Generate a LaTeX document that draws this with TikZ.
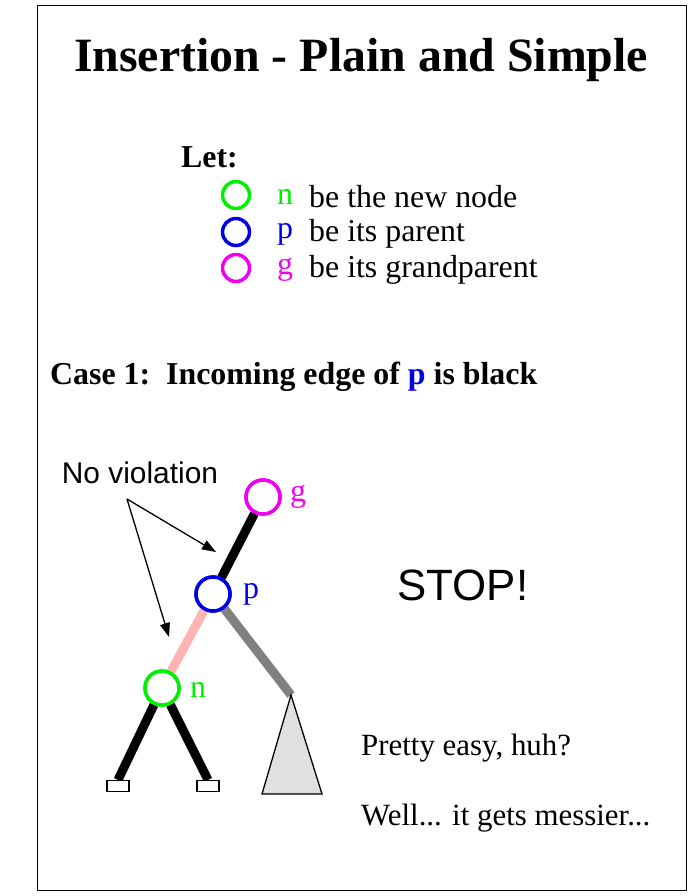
\documentclass[tikz,border=0pt]{standalone}
\usepackage{fontspec}
\setmainfont{Liberation Serif}
\newfontfamily\sansfont{Liberation Sans}
\usetikzlibrary{arrows.meta}
\definecolor{newgreen}{RGB}{0,240,0}
\definecolor{parblue}{RGB}{0,0,230}
\definecolor{grandmag}{RGB}{240,0,240}
\definecolor{edgepink}{RGB}{255,180,180}
\tikzset{
	legcirc/.style={circle,line width=3.5pt,minimum size=27bp,inner sep=0pt},
	treecirc/.style={circle,line width=3.5pt,fill=white,minimum size=34bp,inner sep=0pt},
	leafbox/.style={draw,line width=1.2pt,fill=white,minimum width=22bp,minimum height=11bp,inner sep=0pt},
	thickedge/.style={line width=9bp},
	bodytext/.style={font=\fontsize{32}{36}\selectfont,anchor=west,inner sep=0pt},
	pointer/.style={-{Triangle[length=14bp,width=10bp]},line width=1.3pt}
}
\begin{document}
\begin{tikzpicture}[x=1bp,y=-1bp]
	\useasboundingbox (0,0) rectangle (697,896);
	\draw[line width=1pt] (37,5) rectangle (686,890);
	\node[font=\fontsize{48}{52}\selectfont\bfseries] (title) at (361,60) {Insertion - Plain and Simple};
	% legend
	\node[bodytext,font=\fontsize{32}{36}\selectfont\bfseries] (let) at (181,157) {Let:};
	\node[legcirc,draw=newgreen] (legn) at (236,195) {};
	\node[legcirc,draw=parblue] (legp) at (236,232) {};
	\node[legcirc,draw=grandmag] (legg) at (236,268) {};
	\node[bodytext,text=newgreen] (legnl) at (277,197) {n};
	\node[bodytext,text=parblue] (legpl) at (277,234) {p};
	\node[bodytext,text=grandmag] (leggl) at (277,270) {g};
	\node[bodytext] (legnt) at (309,197) {be the new node};
	\node[bodytext] (legpt) at (309,234) {be its parent};
	\node[bodytext] (leggt) at (309,270) {be its grandparent};
	\node[bodytext,font=\fontsize{32}{36}\selectfont\bfseries] (case) at (50,377) {Case 1:\ \ Incoming edge of \textcolor{parblue}{p} is black};
	% tree
	\coordinate (apex) at (291,695);
	\node[leafbox] (leafl) at (118,786) {};
	\node[leafbox] (leafr) at (208,786) {};
	\node[treecirc,draw=grandmag] (g) at (263,497) {};
	\node[treecirc,draw=parblue] (p) at (213,594) {};
	\node[treecirc,draw=newgreen] (n) at (162,688) {};
	\draw[thickedge] (g) -- (p);
	\draw[thickedge,edgepink] (p) -- (n);
	\draw[thickedge,gray] (p) -- (apex);
	\draw[thickedge] (n) -- (leafl.north);
	\draw[thickedge] (n) -- (leafr.north);
	\draw[line width=1.3pt,fill=black!12] (apex) -- (322,794) -- (262,794) -- cycle;
	\node[treecirc,draw=grandmag] at (g) {};
	\node[treecirc,draw=parblue] at (p) {};
	\node[treecirc,draw=newgreen] at (n) {};
	\node[leafbox] at (leafl) {};
	\node[leafbox] at (leafr) {};
	\node[bodytext,text=grandmag] (gl) at (290,497) {g};
	\node[bodytext,text=parblue] (pl) at (243,594) {p};
	\node[bodytext,text=newgreen] (nl) at (190,690) {n};
	% annotations
	\node[font=\sansfont\fontsize{30}{34}\selectfont] (noviol) at (140,473) {No violation};
	\coordinate (fork) at (127,499);
	\draw[pointer] (fork) -- (216,552);
	\draw[pointer] (fork) -- (169,637);
	\node[font=\sansfont\fontsize{44}{48}\selectfont] (stop) at (463,585) {STOP!};
	\node[bodytext,font=\fontsize{31}{34}\selectfont] (easy) at (361,748) {Pretty easy, huh?};
	\node[bodytext,font=\fontsize{31}{34}\selectfont] (messier) at (361,818) {Well... it gets messier...};
\end{tikzpicture}
\end{document}
